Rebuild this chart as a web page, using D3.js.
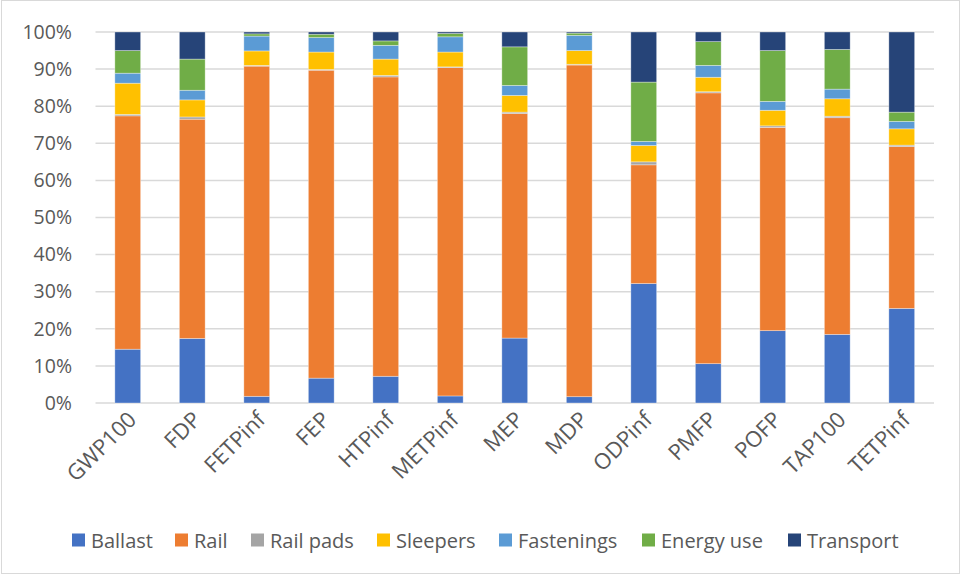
<!DOCTYPE html>
<html>
<head>
<meta charset="utf-8">
<script src="https://cdn.jsdelivr.net/npm/d3@7"></script>
<style>
  body { margin: 0; background: #fff; }
  text { font-family: "Open Sans", sans-serif; fill: #595959; }
</style>
</head>
<body>
<div class="chart"></div>
<script>
// impact categories
let categories = ['GWP100', 'FDP', 'FETPinf', 'FEP', 'HTPinf', 'METPinf', 'MEP', 'MDP', 'ODPinf', 'PMFP', 'POFP', 'TAP100', 'TETPinf']
let seriesNames = ['Ballast', 'Rail', 'Rail pads', 'Sleepers', 'Fastenings', 'Energy use', 'Transport']

// shares in % per category
let ballast    = [14.5, 17.4, 1.8, 6.7, 7.2, 1.9, 17.5, 1.7, 32.2, 10.6, 19.5, 18.5, 25.5]
let rail       = [62.9, 59.1, 89.0, 83.0, 80.7, 88.5, 60.5, 89.4, 32.0, 73.0, 54.8, 58.4, 43.6]
let railPads   = [0.4, 0.6, 0.2, 0.2, 0.4, 0.2, 0.4, 0.2, 0.8, 0.3, 0.4, 0.4, 0.4]
let sleepers   = [8.4, 4.6, 3.9, 4.7, 4.4, 4.0, 4.5, 3.7, 4.4, 3.9, 4.2, 4.7, 4.4]
let fastenings = [2.7, 2.6, 4.0, 3.9, 3.7, 4.1, 2.7, 4.1, 1.1, 3.2, 2.4, 2.6, 2.0]
let energyUse  = [6.1, 8.4, 0.6, 0.9, 1.2, 0.9, 10.4, 0.6, 16.0, 6.4, 13.7, 10.7, 2.5]
let transport  = [5.0, 7.3, 0.5, 0.6, 2.4, 0.4, 4.0, 0.3, 13.5, 2.6, 5.0, 4.7, 21.6]

let yTicks = [0, 10, 20, 30, 40, 50, 60, 70, 80, 90, 100]

let colors = ['#4472C4', '#ED7D31', '#A5A5A5', '#FFC000', '#5B9BD5', '#70AD47', '#264478']

let width = 962
let height = 576

let allSeries = [ballast, rail, railPads, sleepers, fastenings, energyUse, transport]
let table = categories.map((c, i) => {
    let row = { cat: c }
    seriesNames.forEach((s, j) => { row[s] = allSeries[j][i] })
    return row
})
let stacked = d3.stack().keys(seriesNames)(table)

let xScale = d3.scaleBand()
                .domain(categories)
                .range([95.5, 934])
                .paddingInner(0.6)
                .paddingOuter(0.3)

let yScale = d3.scaleLinear()
                .domain([0, 100])
                .range([403, 32])

let svg = d3.select('.chart')
            .append('svg')
            .attr('width', width)
            .attr('height', height)

// outer border
svg.append('rect')
    .attr('x', 1.5).attr('y', 0.5)
    .attr('width', 958).attr('height', 573)
    .attr('fill', 'none')
    .attr('stroke', '#d9d9d9')

// gridlines
svg.append('g')
    .selectAll('line')
    .data(yTicks)
    .enter()
    .append('line')
    .attr('x1', 95.5)
    .attr('x2', 934)
    .attr('y1', d => yScale(d))
    .attr('y2', d => yScale(d))
    .attr('stroke', '#d9d9d9')
    .attr('stroke-width', 1.5)

// y labels
let yAxis = d3.axisLeft(yScale)
                .tickValues(yTicks)
                .tickFormat(d => d + '%')
                .tickSize(0)
                .tickPadding(0)

let gy = svg.append('g')
    .attr('transform', 'translate(72,0)')
    .call(yAxis)
gy.select('.domain').remove()
gy.selectAll('text')
    .style('font-size', '19.5px')
    .attr('fill', '#595959')
    .style('font-family', '"Open Sans", sans-serif')

// bars
svg.append('g')
    .selectAll('g')
    .data(stacked)
    .enter()
    .append('g')
    .attr('fill', (d, i) => colors[i])
    .selectAll('rect')
    .data(d => d)
    .enter()
    .append('rect')
    .attr('x', d => xScale(d.data.cat))
    .attr('width', xScale.bandwidth())
    .attr('y', d => yScale(d[1]))
    .attr('height', d => yScale(d[0]) - yScale(d[1]))
    .attr('stroke', 'rgba(255,255,255,0.45)')
    .attr('stroke-width', 0.75)

// x labels
let xAxis = d3.axisBottom(xScale).tickSize(0).tickPadding(0)
let gx = svg.append('g')
    .attr('transform', 'translate(0,403)')
    .call(xAxis)
gx.select('.domain').remove()
gx.selectAll('text')
    .style('font-size', '22px')
    .attr('fill', '#595959')
    .style('font-family', '"Open Sans", sans-serif')
    .attr('text-anchor', 'end')
    .attr('dy', 0)
    .attr('transform', 'translate(10,18) rotate(-45)')

// legend
let legendX = [72, 175, 251, 377, 499, 642, 788]
let legend = svg.append('g')
seriesNames.forEach((s, i) => {
    legend.append('rect')
        .attr('x', legendX[i])
        .attr('y', 533.5)
        .attr('width', 13)
        .attr('height', 13)
        .attr('fill', colors[i])
    legend.append('text')
        .attr('x', legendX[i] + 19)
        .attr('y', 547.5)
        .style('font-size', '20px')
        .text(s)
})
</script>
</body>
</html>
